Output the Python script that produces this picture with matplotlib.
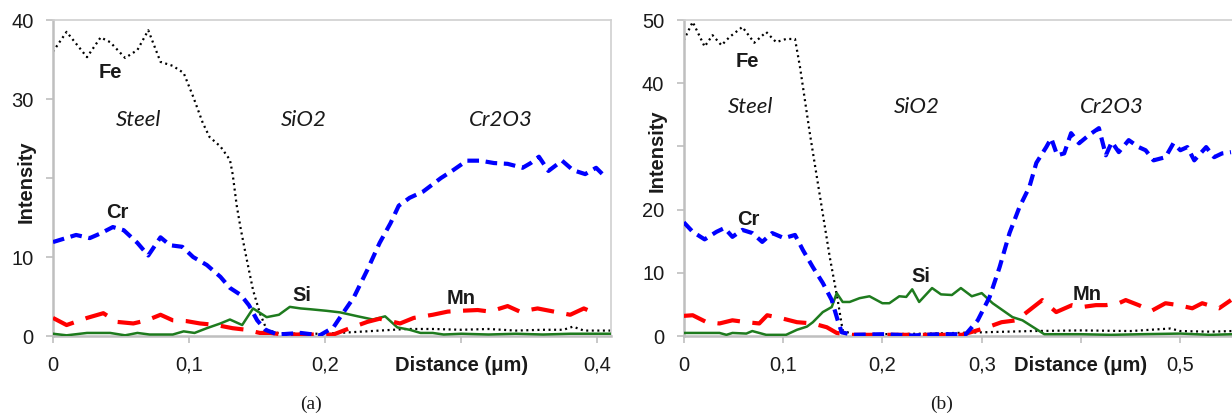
import matplotlib

matplotlib.use("Agg")
import matplotlib.pyplot as plt

plt.rcParams["font.family"] = ["Liberation Sans", "DejaVu Sans"]

# ---- panel (a) ----
A_FE_X = [0, 0.010, 0.025, 0.035, 0.042, 0.053, 0.062, 0.070, 0.079, 0.088, 0.096, 0.103, 0.110,
          0.115, 0.123, 0.130, 0.132, 0.135, 0.138, 0.142, 0.147, 0.152, 0.157, 0.165, 0.18, 0.20,
          0.22, 0.24, 0.26, 0.28, 0.30, 0.32, 0.34, 0.36, 0.375, 0.382, 0.39, 0.41]
A_FE_Y = [36, 38.5, 35.3, 37.8, 37.2, 35.2, 36.2, 38.7, 34.7, 34.2, 33.3, 30.3, 27,
          25.2, 24, 22.3, 20.5, 16.5, 13.5, 10, 5.8, 2.9, 0.8, 0.4, 0.3, 0.3,
          0.5, 0.7, 0.9, 0.9, 0.8, 0.9, 0.7, 0.8, 0.8, 1.2, 0.7, 0.7]

A_CR_X = [0, 0.017, 0.027, 0.035, 0.044, 0.052, 0.062, 0.070, 0.079, 0.086, 0.095, 0.103, 0.113,
          0.123, 0.130, 0.138, 0.144, 0.150, 0.156, 0.165, 0.182, 0.196, 0.206, 0.213, 0.221,
          0.231, 0.240, 0.248, 0.254, 0.262, 0.272, 0.285, 0.294, 0.304, 0.314, 0.324, 0.334,
          0.345, 0.351, 0.357, 0.364, 0.374, 0.382, 0.391, 0.399, 0.406]
A_CR_Y = [11.9, 12.8, 12.4, 13, 13.8, 13.4, 11.8, 10.2, 12.5, 11.5, 11.3, 10, 9,
          7.5, 6.1, 5.2, 3.9, 2, 0.8, 0.2, 0.4, 0.1, 1.1, 2.9, 4.9,
          8.4, 11.8, 14.3, 16.5, 17.5, 18.3, 20, 21, 22.2, 22.2, 21.9, 21.8,
          21.3, 21.9, 22.7, 20.9, 22.2, 21, 20.5, 21.3, 20.1]

A_MN_X = [0, 0.010, 0.025, 0.037, 0.047, 0.059, 0.069, 0.079, 0.088, 0.098, 0.108, 0.120, 0.132,
          0.142, 0.152, 0.160, 0.169, 0.182, 0.206, 0.218, 0.231, 0.240, 0.255, 0.265, 0.279,
          0.290, 0.299, 0.312, 0.321, 0.334, 0.343, 0.356, 0.368, 0.380, 0.390, 0.401]
A_MN_Y = [2.3, 1.4, 2.3, 2.9, 1.8, 1.6, 2.0, 2.7, 2.0, 1.9, 1.6, 1.4, 1.0,
          0.8, 0.4, 0.4, 0.2, 0.2, 0.2, 1.0, 1.8, 2.2, 1.6, 2.3, 2.7,
          3.1, 3.2, 3.3, 3.1, 3.8, 3.1, 3.5, 3.1, 2.7, 3.5, 2.7]

A_SI_X = [0, 0.010, 0.025, 0.042, 0.053, 0.062, 0.071, 0.088, 0.096, 0.104, 0.113, 0.123, 0.130,
          0.139, 0.147, 0.157, 0.166, 0.174, 0.182, 0.189, 0.201, 0.211, 0.224, 0.235, 0.244,
          0.253, 0.262, 0.270, 0.279, 0.287, 0.30, 0.32, 0.34, 0.36, 0.38, 0.40, 0.41]
A_SI_Y = [0.3, 0.1, 0.4, 0.4, 0.1, 0.4, 0.2, 0.2, 0.6, 0.4, 1.0, 1.6, 2.1,
          1.4, 3.5, 2.4, 2.7, 3.7, 3.5, 3.4, 3.2, 3.0, 2.5, 2.1, 2.5,
          1.1, 0.8, 0.4, 0.4, 0.2, 0.3, 0.2, 0.3, 0.2, 0.3, 0.3, 0.3]

# ---- panel (b) ----
B_FE_X = [0, 0.009, 0.021, 0.029, 0.038, 0.046, 0.059, 0.071, 0.083, 0.093, 0.103, 0.112, 0.117,
          0.127, 0.139, 0.147, 0.155, 0.160, 0.170, 0.20, 0.25, 0.30, 0.35, 0.40, 0.45, 0.49,
          0.50, 0.53, 0.552]
B_FE_Y = [46.8, 49.7, 45.8, 47.6, 46, 47.3, 48.9, 46.4, 48.1, 46.5, 47, 47, 42.6,
          32, 20.3, 12.5, 5.7, 0.9, 0.3, 0.3, 0.4, 0.6, 0.8, 0.9, 0.8, 1.2,
          0.8, 0.7, 0.8]

B_CR_X = [0, 0.009, 0.021, 0.033, 0.041, 0.049, 0.059, 0.069, 0.079, 0.089, 0.101, 0.112, 0.120,
          0.130, 0.140, 0.149, 0.155, 0.159, 0.170, 0.20, 0.23, 0.257, 0.284, 0.296, 0.308,
          0.318, 0.328, 0.338, 0.348, 0.355, 0.365, 0.370, 0.376, 0.383, 0.390, 0.398, 0.408,
          0.418, 0.425, 0.431, 0.438, 0.448, 0.458, 0.465, 0.473, 0.485, 0.493, 0.500, 0.507,
          0.514, 0.526, 0.534, 0.542, 0.551]
B_CR_Y = [18, 16.5, 15.3, 16.5, 17.1, 15.7, 16.8, 16.3, 14.9, 16.3, 15.5, 16, 13.6,
          10.9, 8.4, 5.7, 2.5, 0.6, 0.2, 0.3, 0.1, 0.3, 0.3, 2.5, 6.2,
          10.9, 16.3, 20.4, 23.6, 27.4, 29.9, 31.3, 28.6, 28.9, 32.1, 30.5, 31.8,
          32.9, 28.6, 30.7, 29.1, 31, 29.9, 29.4, 27.8, 28.3, 30.5, 29.4, 29.9,
          27.8, 29.9, 28.3, 28.9, 29.1]

B_MN_X = [0, 0.009, 0.023, 0.036, 0.049, 0.063, 0.076, 0.084, 0.099, 0.114, 0.130, 0.144, 0.154,
          0.167, 0.20, 0.237, 0.280, 0.304, 0.320, 0.335, 0.348, 0.361, 0.375, 0.391, 0.401,
          0.415, 0.425, 0.438, 0.445, 0.458, 0.471, 0.485, 0.498, 0.512, 0.522, 0.539, 0.551]
B_MN_Y = [3.2, 3.3, 2.2, 2.0, 2.5, 2.2, 2.0, 3.3, 2.8, 2.2, 2.0, 1.4, 0.5,
          0.2, 0.2, 0.2, 0.2, 1.3, 2.2, 2.5, 4.1, 5.7, 3.8, 4.9, 4.6,
          4.9, 4.9, 5.2, 5.7, 4.9, 4.0, 5.2, 4.9, 4.4, 5.2, 4.4, 5.7]

B_SI_X = [0, 0.036, 0.043, 0.049, 0.063, 0.069, 0.083, 0.103, 0.114, 0.124, 0.130, 0.140, 0.149,
          0.154, 0.160, 0.167, 0.177, 0.187, 0.200, 0.207, 0.217, 0.224, 0.230, 0.237, 0.250,
          0.259, 0.270, 0.279, 0.290, 0.300, 0.311, 0.321, 0.331, 0.341, 0.353, 0.363, 0.40,
          0.43, 0.46, 0.50, 0.53, 0.552]
B_SI_Y = [0.5, 0.5, 0.2, 0.5, 0.4, 0.8, 0.2, 0.2, 1.0, 1.5, 2.2, 3.8, 4.6,
          6.8, 5.4, 5.4, 6.0, 6.3, 5.2, 5.2, 6.3, 6.2, 7.4, 5.4, 7.6,
          6.6, 6.5, 7.6, 6.3, 6.8, 5.2, 4.1, 3.0, 2.5, 1.3, 0.3, 0.3,
          0.2, 0.3, 0.4, 0.2, 0.3]

A_XTICKS = [0, 0.1, 0.2, 0.3, 0.4]
A_XLABELS = ["0", "0,1", "0,2", "Distance (μm)", "0,4"]
A_YTICKS = [0, 10, 20, 30, 40]
A_YLABELS = ["0", "10", "", "30", "40"]

B_XTICKS = [0, 0.1, 0.2, 0.3, 0.4, 0.5]
B_XLABELS = ["0", "0,1", "0,2", "0,3", "Distance (μm)", "0,5"]
B_YTICKS = [0, 10, 20, 30, 40, 50]
B_YLABELS = ["0", "10", "20", "", "40", "50"]

REGIONS = ["Steel", "SiO2", "Cr2O3"]

BLUE = "#0000ff"
RED = "#ff0000"
GREEN = "#1e7b1e"
AXIS_GRAY = "#bfbfbf"
TEXT = "#1a1a1a"

fig = plt.figure(figsize=(12.32, 4.17), dpi=100)
ax_a = fig.add_axes([0.043, 0.194, 0.453, 0.758])
ax_b = fig.add_axes([0.555, 0.194, 0.445, 0.758])


def draw_panel(ax, fe, cr, mn, si, xlim, ylim, xticks, xlabels, yticks, ylabels, intensity_y,
               element_pos, region_pos, caption, caption_x):
    ax.plot(*fe, color="black", lw=1.6, linestyle=(0, (0.9, 1.6)), zorder=2)
    ax.plot(*si, color=GREEN, lw=1.8, zorder=3)
    ax.plot(*mn, color=RED, lw=3.0, linestyle=(0, (5.5, 3.0)), zorder=4)
    ax.plot(*cr, color=BLUE, lw=3.0, linestyle=(0, (2.8, 1.6)), zorder=5)

    ax.set_xlim(*xlim)
    ax.set_ylim(*ylim)
    ax.set_xticks(xticks)
    ax.set_xticklabels(xlabels)
    ax.set_yticks(yticks)
    ax.set_yticklabels(ylabels)
    for lab in ax.get_xticklabels():
        if lab.get_text().startswith("Distance"):
            lab.set_fontweight("bold")
    ax.tick_params(axis="both", labelsize=14.5, colors=AXIS_GRAY, labelcolor=TEXT,
                   length=5, width=1.2)
    ax.tick_params(axis="x", pad=9)
    ax.tick_params(axis="y", pad=9)

    ax.annotate("Intensity", xy=(0, intensity_y), xycoords=("axes fraction", "data"),
                xytext=(-19, 0), textcoords="offset points", rotation=90,
                ha="center", va="center", fontsize=14.5, fontweight="bold", color=TEXT)

    for side in ("left", "bottom"):
        ax.spines[side].set_color(AXIS_GRAY)
        ax.spines[side].set_linewidth(1.8)
    for side in ("top", "right"):
        ax.spines[side].set_color("#d0d0d0")
        ax.spines[side].set_linewidth(1.2)

    for name, (x, y) in element_pos.items():
        ax.text(x, y, name, ha="center", va="center", fontsize=14.5, fontweight="bold",
                color=TEXT, zorder=6)
    for name, (x, y) in zip(REGIONS, region_pos):
        ax.text(x, y, name, ha="center", va="center", fontsize=16, style="italic",
                family="Lato", color=TEXT)

    fig.text(caption_x, 0.03, caption, ha="center", va="center", fontsize=14,
             family="Liberation Serif", color=TEXT)


draw_panel(ax_a, (A_FE_X, A_FE_Y), (A_CR_X, A_CR_Y), (A_MN_X, A_MN_Y), (A_SI_X, A_SI_Y),
           (0, 0.41), (0, 40), A_XTICKS, A_XLABELS, A_YTICKS, A_YLABELS, 19.5,
           {"Fe": (0.042, 33.4), "Cr": (0.047, 15.6), "Si": (0.183, 5.1), "Mn": (0.30, 4.8)},
           [(0.0625, 27.3), (0.184, 27.3), (0.329, 27.3)],
           "(a)", 311 / 1232)

draw_panel(ax_b, (B_FE_X, B_FE_Y), (B_CR_X, B_CR_Y), (B_MN_X, B_MN_Y), (B_SI_X, B_SI_Y),
           (0, 0.552), (0, 50), B_XTICKS, B_XLABELS, B_YTICKS, B_YLABELS, 29.4,
           {"Fe": (0.064, 43.4), "Cr": (0.065, 18.4), "Si": (0.239, 9.5), "Mn": (0.406, 6.6)},
           [(0.067, 36.2), (0.235, 36.2), (0.431, 36.2)],
           "(b)", 942 / 1232)
ax_b.spines["right"].set_visible(False)

fig.savefig("out.png", dpi=100)
